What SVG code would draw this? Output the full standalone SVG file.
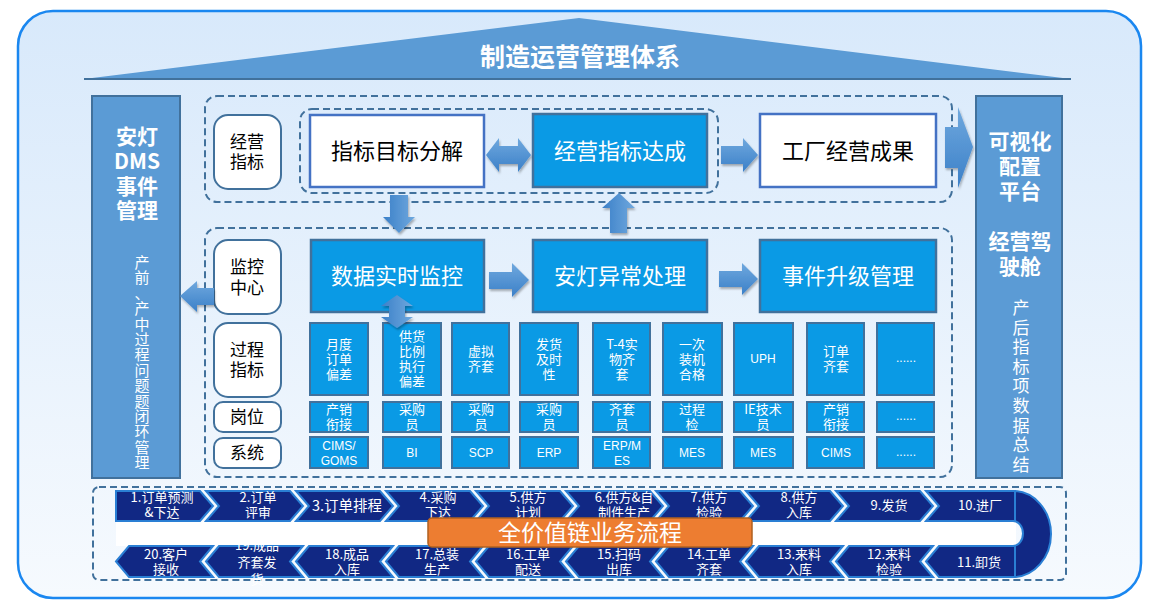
<svg xmlns="http://www.w3.org/2000/svg" width="1160" height="614" viewBox="0 0 1160 614">
<defs>
<linearGradient id="bg" x1="0" y1="0" x2="0" y2="1"><stop offset="0" stop-color="#d8e9fb"/><stop offset="1" stop-color="#f6fafe"/></linearGradient>
<linearGradient id="arH" x1="0" y1="0" x2="0" y2="1"><stop offset="0" stop-color="#6fa8de"/><stop offset="1" stop-color="#3b80c8"/></linearGradient>
<linearGradient id="arV" x1="0" y1="0" x2="1" y2="0"><stop offset="0" stop-color="#3b80c8"/><stop offset="1" stop-color="#6fa8de"/></linearGradient>
<filter id="sh" x="-20%" y="-20%" width="150%" height="150%"><feDropShadow dx="1" dy="2" stdDeviation="1.2" flood-color="#000" flood-opacity="0.3"/></filter>
<style>
.cjk{font-family:"Noto Sans CJK SC","Liberation Sans",sans-serif}
.panel{fill:#5b9bd5;stroke:#41719c;stroke-width:2}
.dash{fill:none;stroke:#41719c;stroke-width:2;stroke-dasharray:7 4}
.pill{fill:#fff;stroke:#41719c;stroke-width:2}
.wbox{fill:#fff;stroke:#4472c4;stroke-width:2.5}
.bbox{fill:#0a9ae5;stroke:#41719c;stroke-width:2.5}
.cell{fill:#0a9ae5;stroke:#41719c;stroke-width:2}
.chev{fill:#112884;stroke:#2a7fd4;stroke-width:2}
.arH{fill:url(#arH);filter:url(#sh)}
.arV{fill:url(#arV);filter:url(#sh)}
.wt{fill:#fff;text-anchor:middle}
.bt{fill:#000;text-anchor:middle}
.big{font-size:22px}
.pt{font-size:17px}
.ct{font-size:13px}
.lt{font-size:12px;font-family:"Liberation Sans","Noto Sans CJK SC",sans-serif}
.bold{font-weight:bold}
</style>
</defs>
<rect x="18" y="11" width="1123" height="587" rx="35" fill="url(#bg)" stroke="#1a87f0" stroke-width="2.5"/>

<g id="roof">
<polygon points="84,79 579,18 1071,79" fill="#5b9bd5"/>
<line x1="84" y1="79" x2="1071" y2="79" stroke="#41719c" stroke-width="2"/>
<text x="580" y="66" class="cjk wt bold" font-size="25">制造运营管理体系</text>
</g>

<g id="left-panel">
<rect x="92" y="96" width="88" height="382" class="panel"/>
<text class="cjk wt bold" font-size="21"><tspan x="137" y="144">安灯</tspan><tspan x="137" y="169">DMS</tspan><tspan x="137" y="194">事件</tspan><tspan x="137" y="218">管理</tspan></text>
<text class="cjk wt" font-size="15"><tspan x="142" y="268">产</tspan><tspan x="142" dy="15.4">前</tspan><tspan x="142" dy="15.4">、</tspan><tspan x="142" dy="15.4">产</tspan><tspan x="142" dy="15.4">中</tspan><tspan x="142" dy="15.4">过</tspan><tspan x="142" dy="15.4">程</tspan><tspan x="142" dy="15.4">问</tspan><tspan x="142" dy="15.4">题</tspan><tspan x="142" dy="15.4">题</tspan><tspan x="142" dy="15.4">闭</tspan><tspan x="142" dy="15.4">环</tspan><tspan x="142" dy="15.4">管</tspan><tspan x="142" dy="15.4">理</tspan></text>
</g>

<g id="right-panel">
<rect x="976" y="96" width="86" height="382" class="panel"/>
<text class="cjk wt bold" font-size="21"><tspan x="1020" y="149">可视化</tspan><tspan x="1020" y="174">配置</tspan><tspan x="1020" y="199">平台</tspan><tspan x="1020" y="249">经营驾</tspan><tspan x="1020" y="274">驶舱</tspan></text>
<text class="cjk wt" font-size="17"><tspan x="1021" y="314">产</tspan><tspan x="1021" dy="19.6">后</tspan><tspan x="1021" dy="19.6">指</tspan><tspan x="1021" dy="19.6">标</tspan><tspan x="1021" dy="19.6">项</tspan><tspan x="1021" dy="19.6">数</tspan><tspan x="1021" dy="19.6">据</tspan><tspan x="1021" dy="19.6">总</tspan><tspan x="1021" dy="19.6">结</tspan></text>
</g>

<g id="containers">
<rect x="205" y="96" width="747" height="106" rx="12" class="dash"/>
<rect x="300" y="109" width="418" height="84" rx="12" class="dash"/>
<rect x="205" y="228" width="747" height="249" rx="12" class="dash"/>
<rect x="93" y="487" width="973" height="93" rx="6" class="dash"/>
</g>

<g id="pills" class="cjk">
<g id="pill-jyzb"><rect x="214" y="115" width="67" height="74" rx="14" class="pill"/><text class="bt pt"><tspan x="247" y="148">经营</tspan><tspan x="247" y="168">指标</tspan></text></g>
<g id="pill-jkzx"><rect x="214" y="240" width="67" height="74" rx="14" class="pill"/><text class="bt pt"><tspan x="247" y="273">监控</tspan><tspan x="247" y="294">中心</tspan></text></g>
<g id="pill-gczb"><rect x="214" y="323" width="67" height="74" rx="14" class="pill"/><text class="bt pt"><tspan x="247" y="356">过程</tspan><tspan x="247" y="376">指标</tspan></text></g>
<g id="pill-gw"><rect x="214" y="402" width="67" height="30" rx="9" class="pill"/><text x="247" y="423" class="bt pt">岗位</text></g>
<g id="pill-xt"><rect x="214" y="438" width="67" height="30" rx="9" class="pill"/><text x="247" y="459" class="bt pt">系统</text></g>
</g>

<g id="main-boxes" class="cjk">
<g id="n-zbmbfj"><rect x="310" y="115" width="174" height="72" class="wbox"/><text x="397" y="159" class="bt big">指标目标分解</text></g>
<g id="n-jyzbdc"><rect x="533" y="114" width="174" height="73" class="bbox"/><text x="620" y="159" class="wt big">经营指标达成</text></g>
<g id="n-gcjycg"><rect x="760" y="114" width="176" height="73" class="wbox"/><text x="848" y="159" class="bt big">工厂经营成果</text></g>
<g id="n-sjssjk"><rect x="311" y="240" width="173" height="72" class="bbox"/><text x="397" y="284" class="wt big">数据实时监控</text></g>
<g id="n-adyccl"><rect x="533" y="240" width="174" height="72" class="bbox"/><text x="620" y="284" class="wt big">安灯异常处理</text></g>
<g id="n-sjsjgl"><rect x="760" y="240" width="176" height="72" class="bbox"/><text x="848" y="284" class="wt big">事件升级管理</text></g>
</g>

<g id="grid" class="cjk">
<g id="c1"><rect x="310" y="323" width="58" height="72" class="cell"/><text class="wt ct"><tspan x="339" y="349">月度</tspan><tspan x="339" y="364">订单</tspan><tspan x="339" y="379">偏差</tspan></text>
<rect x="310" y="402" width="58" height="30" class="cell"/><text class="wt ct"><tspan x="339" y="414">产销</tspan><tspan x="339" y="429">衔接</tspan></text>
<rect x="310" y="437" width="58" height="31" class="cell"/><text class="wt lt"><tspan x="339" y="450">CIMS/</tspan><tspan x="339" y="465">GOMS</tspan></text></g>
<g id="c2"><rect x="383" y="323" width="58" height="72" class="cell"/><text class="wt ct"><tspan x="412" y="341">供货</tspan><tspan x="412" y="356">比例</tspan><tspan x="412" y="371">执行</tspan><tspan x="412" y="386">偏差</tspan></text>
<rect x="383" y="402" width="58" height="30" class="cell"/><text class="wt ct"><tspan x="412" y="414">采购</tspan><tspan x="412" y="429">员</tspan></text>
<rect x="383" y="437" width="58" height="31" class="cell"/><text x="412" y="457" class="wt lt">BI</text></g>
<g id="c3"><rect x="452" y="323" width="57" height="72" class="cell"/><text class="wt ct"><tspan x="481" y="356">虚拟</tspan><tspan x="481" y="371">齐套</tspan></text>
<rect x="452" y="402" width="57" height="30" class="cell"/><text class="wt ct"><tspan x="481" y="414">采购</tspan><tspan x="481" y="429">员</tspan></text>
<rect x="452" y="437" width="57" height="31" class="cell"/><text x="481" y="457" class="wt lt">SCP</text></g>
<g id="c4"><rect x="520" y="323" width="58" height="72" class="cell"/><text class="wt ct"><tspan x="549" y="349">发货</tspan><tspan x="549" y="364">及时</tspan><tspan x="549" y="379">性</tspan></text>
<rect x="520" y="402" width="58" height="30" class="cell"/><text class="wt ct"><tspan x="549" y="414">采购</tspan><tspan x="549" y="429">员</tspan></text>
<rect x="520" y="437" width="58" height="31" class="cell"/><text x="549" y="457" class="wt lt">ERP</text></g>
<g id="c5"><rect x="593" y="323" width="57" height="72" class="cell"/><text class="wt ct"><tspan x="622" y="349">T-4实</tspan><tspan x="622" y="364">物齐</tspan><tspan x="622" y="379">套</tspan></text>
<rect x="593" y="402" width="57" height="30" class="cell"/><text class="wt ct"><tspan x="622" y="414">齐套</tspan><tspan x="622" y="429">员</tspan></text>
<rect x="593" y="437" width="57" height="31" class="cell"/><text class="wt lt"><tspan x="622" y="450">ERP/M</tspan><tspan x="622" y="465">ES</tspan></text></g>
<g id="c6"><rect x="663" y="323" width="59" height="72" class="cell"/><text class="wt ct"><tspan x="692" y="349">一次</tspan><tspan x="692" y="364">装机</tspan><tspan x="692" y="379">合格</tspan></text>
<rect x="663" y="402" width="59" height="30" class="cell"/><text class="wt ct"><tspan x="692" y="414">过程</tspan><tspan x="692" y="429">检</tspan></text>
<rect x="663" y="437" width="59" height="31" class="cell"/><text x="692" y="457" class="wt lt">MES</text></g>
<g id="c7"><rect x="734" y="323" width="59" height="72" class="cell"/><text x="763" y="363" class="wt lt">UPH</text>
<rect x="734" y="402" width="59" height="30" class="cell"/><text class="wt ct"><tspan x="763" y="414">IE技术</tspan><tspan x="763" y="429">员</tspan></text>
<rect x="734" y="437" width="59" height="31" class="cell"/><text x="763" y="457" class="wt lt">MES</text></g>
<g id="c8"><rect x="807" y="323" width="57" height="72" class="cell"/><text class="wt ct"><tspan x="836" y="356">订单</tspan><tspan x="836" y="371">齐套</tspan></text>
<rect x="807" y="402" width="57" height="30" class="cell"/><text class="wt ct"><tspan x="836" y="414">产销</tspan><tspan x="836" y="429">衔接</tspan></text>
<rect x="807" y="437" width="57" height="31" class="cell"/><text x="836" y="457" class="wt lt">CIMS</text></g>
<g id="c9"><rect x="877" y="323" width="57" height="72" class="cell"/><text x="906" y="362" class="wt lt" font-size="10">......</text>
<rect x="877" y="402" width="57" height="30" class="cell"/><text x="906" y="420" class="wt lt" font-size="10">......</text>
<rect x="877" y="437" width="57" height="31" class="cell"/><text x="906" y="456" class="wt lt" font-size="10">......</text></g>
</g>

<g id="connectors">
<polygon class="arH" points="486,155 499,138 499,146 518,146 518,138 531,155 518,172 518,164 499,164 499,172"/>
<polygon class="arH" points="721,146 743,146 743,138 758,155 743,172 743,164 721,164"/>
<polygon class="arH" points="945,127 958,127 958,107 973,147 958,188 958,168 945,168"/>
<polygon class="arV" points="390,195 408,195 408,217 415,217 399,233 383,217 390,217"/>
<polygon class="arV" points="610,233 627,233 627,208 635,208 619,193 602,208 610,208"/>
<polygon class="arH" points="489,272 512,272 512,263 529,280 512,297 512,289 489,289"/>
<polygon class="arH" points="719,271 742,271 742,263 758,279 742,295 742,287 719,287"/>
<polygon class="arH" points="180,296 197,281 197,288 214,288 214,305 197,305 197,312"/>
<polygon class="arV" points="397,295 413,306 405,306 405,317 413,317 397,328 381,317 389,317 389,306 381,306"/>
</g>

<g id="process" class="cjk">
<rect x="116" y="521" width="900" height="25" fill="#fff"/>
<path class="chev" d="M1013,491 A38,43 0 0 1 1013,577 L1013,546 A10,12.5 0 0 0 1013,521 Z"/>
<g id="p1"><polygon class="chev" points="116,491 200,491 213,506 200,521 116,521"/><text class="wt ct"><tspan x="162" y="502">1.订单预测</tspan><tspan x="162" y="517">&amp;下达</tspan></text></g>
<g id="p2"><polygon class="chev" points="206,491 290,491 303,506 290,521 206,521 219,506"/><text class="wt ct"><tspan x="258" y="502">2.订单</tspan><tspan x="258" y="517">评审</tspan></text></g>
<g id="p3"><polygon class="chev" points="296,491 380,491 393,506 380,521 296,521 309,506"/><text x="347" y="511" class="wt" font-size="14.5">3.订单排程</text></g>
<g id="p4"><polygon class="chev" points="386,491 470,491 483,506 470,521 386,521 399,506"/><text class="wt ct"><tspan x="438" y="502">4.采购</tspan><tspan x="438" y="517">下达</tspan></text></g>
<g id="p5"><polygon class="chev" points="476,491 560,491 573,506 560,521 476,521 489,506"/><text class="wt ct"><tspan x="528" y="502">5.供方</tspan><tspan x="528" y="517">计划</tspan></text></g>
<g id="p6"><polygon class="chev" points="566,491 650,491 663,506 650,521 566,521 579,506"/><text class="wt ct"><tspan x="624" y="502">6.供方&amp;自</tspan><tspan x="624" y="517">制件生产</tspan></text></g>
<g id="p7"><polygon class="chev" points="656,491 740,491 753,506 740,521 656,521 669,506"/><text class="wt ct"><tspan x="709" y="502">7.供方</tspan><tspan x="709" y="517">检验</tspan></text></g>
<g id="p8"><polygon class="chev" points="746,491 830,491 843,506 830,521 746,521 759,506"/><text class="wt ct"><tspan x="799" y="502">8.供方</tspan><tspan x="799" y="517">入库</tspan></text></g>
<g id="p9"><polygon class="chev" points="836,491 920,491 933,506 920,521 836,521 849,506"/><text x="889" y="510" class="wt ct">9.发货</text></g>
<g id="p10"><polygon class="chev" points="926,491 1015,491 1015,521 926,521 939,506"/><text x="980" y="510" class="wt ct">10.进厂</text></g>
<g id="p20"><polygon class="chev" points="116,561.5 129,546 213,546 200,561.5 213,577 129,577"/><text class="wt ct"><tspan x="166" y="558.5">20.客户</tspan><tspan x="166" y="573.5">接收</tspan></text></g>
<g id="p19"><polygon class="chev" points="206,561.5 219,546 303,546 290,561.5 303,577 219,577"/><text class="wt ct"><tspan x="257" y="549.5">19.成品</tspan><tspan x="257" y="566.5">齐套发</tspan><tspan x="257" y="583.5">货</tspan></text></g>
<g id="p18"><polygon class="chev" points="296,561.5 309,546 393,546 380,561.5 393,577 309,577"/><text class="wt ct"><tspan x="347" y="558.5">18.成品</tspan><tspan x="347" y="573.5">入库</tspan></text></g>
<g id="p17"><polygon class="chev" points="386,561.5 399,546 483,546 470,561.5 483,577 399,577"/><text class="wt ct"><tspan x="437" y="558.5">17.总装</tspan><tspan x="437" y="573.5">生产</tspan></text></g>
<g id="p16"><polygon class="chev" points="476,561.5 489,546 573,546 560,561.5 573,577 489,577"/><text class="wt ct"><tspan x="528" y="558.5">16.工单</tspan><tspan x="528" y="573.5">配送</tspan></text></g>
<g id="p15"><polygon class="chev" points="566,561.5 579,546 663,546 650,561.5 663,577 579,577"/><text class="wt ct"><tspan x="619" y="558.5">15.扫码</tspan><tspan x="619" y="573.5">出库</tspan></text></g>
<g id="p14"><polygon class="chev" points="656,561.5 669,546 753,546 740,561.5 753,577 669,577"/><text class="wt ct"><tspan x="709" y="558.5">14.工单</tspan><tspan x="709" y="573.5">齐套</tspan></text></g>
<g id="p13"><polygon class="chev" points="746,561.5 759,546 843,546 830,561.5 843,577 759,577"/><text class="wt ct"><tspan x="799" y="558.5">13.来料</tspan><tspan x="799" y="573.5">入库</tspan></text></g>
<g id="p12"><polygon class="chev" points="836,561.5 849,546 933,546 920,561.5 933,577 849,577"/><text class="wt ct"><tspan x="889" y="558.5">12.来料</tspan><tspan x="889" y="573.5">检验</tspan></text></g>
<g id="p11"><polygon class="chev" points="926,561.5 939,546 1015,546 1015,577 939,577"/><text x="979" y="567" class="wt ct">11.卸货</text></g>
<g id="banner"><rect x="428" y="518" width="324" height="29" rx="4" fill="#ed7d31" stroke="#b0601f" stroke-width="1.5"/><text x="590" y="541" class="wt" font-size="23">全价值链业务流程</text></g>
</g>
</svg>
